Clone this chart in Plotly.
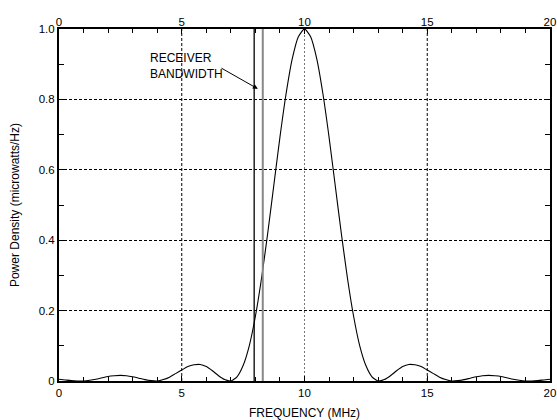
import plotly.graph_objects as go

freq = [i * 0.25 for i in range(81)]
power = [0.005, 0.003, 0.001, 0.000, 0.000, 0.002, 0.005, 0.009, 0.013, 0.015,
         0.016, 0.015, 0.012, 0.008, 0.004, 0.001, 0.000, 0.004, 0.011, 0.021,
         0.031, 0.041, 0.046, 0.047, 0.041, 0.029, 0.015, 0.004, 0.000, 0.012,
         0.044, 0.100, 0.184, 0.292, 0.419, 0.556, 0.693, 0.816, 0.915, 0.978,
         1.000,
         0.978, 0.915, 0.816, 0.693, 0.556, 0.419, 0.292, 0.184, 0.100, 0.044,
         0.012, 0.000, 0.004, 0.015, 0.029, 0.041, 0.047, 0.046, 0.041, 0.031,
         0.021, 0.011, 0.004, 0.000, 0.001, 0.004, 0.008, 0.012, 0.015, 0.016,
         0.015, 0.013, 0.009, 0.005, 0.002, 0.000, 0.000, 0.001, 0.003, 0.005]

x_ticks = [0, 5, 10, 15, 20]
x_ticklabels = ["0", "5", "10", "15", "20"]
y_ticks = [0, 0.2, 0.4, 0.6, 0.8, 1.0]
y_ticklabels = ["0", "0.2", "0.4", "0.6", "0.8", "1.0"]
grid_x_black = [5, 15]
grid_x_grey = [10]
receiver_band = [7.95, 8.3]  # MHz, edges of receiver bandwidth

FONT = "Liberation Sans, Arial, Helvetica, sans-serif"
TICKSIZE = 11.5

fig = go.Figure()
fig.add_trace(go.Scatter(x=freq, y=power, mode="lines",
                         line=dict(color="black", width=1.1, shape="spline", smoothing=0.6),
                         showlegend=False, hoverinfo="skip"))
# invisible trace for top axis
fig.add_trace(go.Scatter(x=[0, 20], y=[0, 0], xaxis="x2", mode="lines",
                         line=dict(width=0), showlegend=False, hoverinfo="skip"))

shapes = []
for gx in grid_x_black:
    shapes.append(dict(type="line", xref="x", yref="paper", x0=gx, x1=gx, y0=0, y1=1,
                       line=dict(color="black", width=1, dash="3px,2px"), layer="below"))
for gx in grid_x_grey:
    shapes.append(dict(type="line", xref="x", yref="paper", x0=gx, x1=gx, y0=0, y1=1,
                       line=dict(color="#777", width=1, dash="2px,2px"), layer="below"))
shapes.append(dict(type="line", xref="x", yref="paper", x0=receiver_band[0], x1=receiver_band[0],
                   y0=0, y1=1, line=dict(color="black", width=1.3)))
shapes.append(dict(type="line", xref="x", yref="paper", x0=receiver_band[1], x1=receiver_band[1],
                   y0=0, y1=1, line=dict(color="#888", width=2)))

fig.update_layout(
    width=557, height=420,
    margin=dict(l=59, r=7, t=29, b=39, autoexpand=False),
    paper_bgcolor="white", plot_bgcolor="white",
    font=dict(family=FONT, size=12, color="black"),
    shapes=shapes,
    xaxis=dict(range=[0, 20], tickmode="array", tickvals=x_ticks, ticktext=x_ticklabels,
               ticks="inside", ticklen=5, tickcolor="black", showgrid=False,
               showline=True, linecolor="black", linewidth=2, mirror="allticks",
               zeroline=False, automargin=False,
               minor=dict(dtick=1, ticks="inside", ticklen=4, tickcolor="black", showgrid=False),
               tickfont=dict(size=TICKSIZE)),
    xaxis2=dict(range=[0, 20], overlaying="x", side="top", tickmode="array",
                tickvals=x_ticks, ticktext=x_ticklabels, ticks="", showgrid=False,
                zeroline=False, showline=False, automargin=False, tickfont=dict(size=TICKSIZE)),
    yaxis=dict(range=[0, 1], tickmode="array", tickvals=y_ticks, ticktext=y_ticklabels,
               ticks="inside", ticklen=5, tickcolor="black",
               showgrid=True, gridcolor="black", gridwidth=1, griddash="3px,2px",
               showline=True, linecolor="black", linewidth=2, mirror="allticks",
               zeroline=False, automargin=False,
               minor=dict(dtick=0.1, ticks="inside", ticklen=4, tickcolor="black", showgrid=False),
               tickfont=dict(size=TICKSIZE)),
    annotations=[
        dict(text="FREQUENCY (MHz)", xref="paper", yref="paper", x=0.5, y=-0.092,
             xanchor="center", yanchor="middle", showarrow=False, font=dict(size=12)),
        dict(text="Power Density (microwatts/Hz)", xref="paper", yref="paper",
             x=-0.0895, y=0.5, xanchor="center", yanchor="middle", textangle=-90,
             showarrow=False, font=dict(size=12)),
        dict(text="RECEIVER<br>BANDWIDTH", xref="x", yref="y", x=3.63, y=0.894,
             xanchor="left", yanchor="middle", align="left", showarrow=False,
             font=dict(size=12)),
        dict(text="", xref="x", yref="y", x=8.1, y=0.83, axref="x", ayref="y",
             ax=6.56, ay=0.891, showarrow=True, arrowhead=2, arrowsize=1,
             arrowwidth=1, arrowcolor="black"),
    ],
)

fig.write_html("out.html")
